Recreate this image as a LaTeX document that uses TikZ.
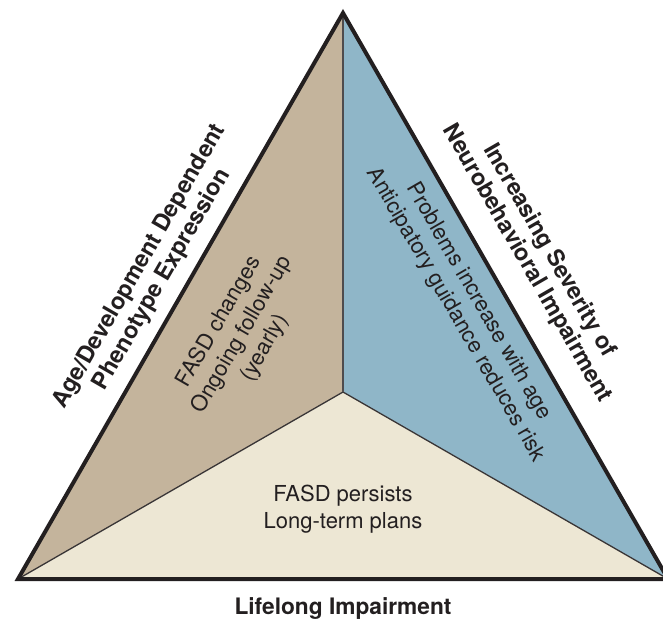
\documentclass[tikz,border=0pt]{standalone}
\usepackage{fontspec}
\setmainfont{TeX Gyre Heros}
\definecolor{tanfill}{HTML}{C4B49C}
\definecolor{bluefill}{HTML}{8FB6C8}
\definecolor{creamfill}{HTML}{EDE7D4}
\definecolor{ink}{HTML}{231F20}
\begin{document}
\begin{tikzpicture}[x=1pt,y=-1pt,
  outer/.style={draw=ink,line width=4pt,line join=miter},
  innerline/.style={draw=ink!90,line width=1.3pt},
  innerv/.style={draw=ink!80,line width=2.2pt},
  sidelabel/.style={text=ink,align=center,font=\fontsize{23.3}{26}\selectfont\bfseries,inner sep=0pt},
  baselabel/.style={text=ink,align=center,font=\fontsize{22.7}{26}\selectfont\bfseries,inner sep=0pt},
  zonetext/.style={text=ink,align=center,font=\fontsize{22}{26.4}\selectfont,inner sep=0pt}]
\useasboundingbox (0,0) rectangle (663,623);
\coordinate (A) at (343,13);
\coordinate (L) at (18,579);
\coordinate (R) at (668,579);
\coordinate (C) at (343,392);
\fill[tanfill] (A) -- (L) -- (C) -- cycle;
\fill[bluefill] (A) -- (C) -- (R) -- cycle;
\fill[creamfill] (L) -- (R) -- (C) -- cycle;
\draw[innerline] (L) -- (C) -- (R);
\draw[innerv] (C) -- (A);
\draw[outer] (A) -- (L) -- (R) -- cycle;
\node[sidelabel,rotate=60] (agelbl) at (151,273) {Age/Development Dependent\\Phenotype Expression};
\node[sidelabel,rotate=-60] (sevlbl) at (538,257) {Increasing Severity of\\Neurobehavioral Impairment};
\node[baselabel] (lifelbl) at (343,609) {Lifelong Impairment};
\node[zonetext,rotate=60] (changes) at (242,335) {FASD changes\\Ongoing follow-up\\(yearly)};
\node[zonetext,rotate=-60] (problems) at (467,308) {Problems increase with age\\Anticipatory guidance reduces risk};
\node[zonetext] (persists) at (343,509) {FASD persists\\Long-term plans};
\end{tikzpicture}
\end{document}
